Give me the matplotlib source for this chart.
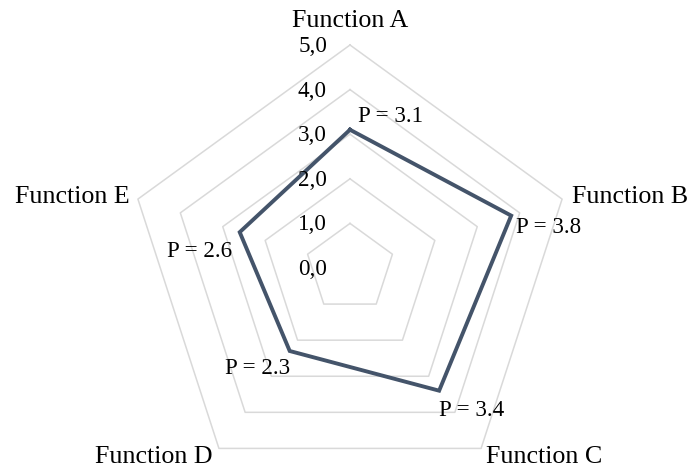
import matplotlib
matplotlib.use('Agg')
import matplotlib.pyplot as plt
import numpy as np

# Données du graphique radar
categories = ['Function A', 'Function B', 'Function C', 'Function D', 'Function E']
values = [3.1, 3.8, 3.4, 2.3, 2.6]
ring_values = [1, 2, 3, 4, 5]
tick_values = [0, 1, 2, 3, 4, 5]
tick_labels = ['0,0', '1,0', '2,0', '3,0', '4,0', '5,0']

plt.rcParams['font.family'] = ['Liberation Serif', 'DejaVu Serif']

W, H = 692, 468
fig = plt.figure(figsize=(W / 100, H / 100), dpi=100, facecolor='white')

# centre (350, 268) px depuis le haut, rayon 223 px
cx, cy, rad = 350, H - 268, 223
ax = fig.add_axes([(cx - rad) / W, (cy - rad) / H, 2 * rad / W, 2 * rad / H],
                  projection='polar')
ax.set_theta_offset(np.pi / 2)
ax.set_theta_direction(-1)
ax.set_ylim(0, 5)
ax.grid(False)
ax.set_xticks([])
ax.set_yticks([])
ax.spines['polar'].set_visible(False)
ax.patch.set_visible(False)

n = len(categories)
theta = np.linspace(0, 2 * np.pi, n, endpoint=False)
theta_closed = np.append(theta, theta[0])

# Grille en pentagones
for r in ring_values:
    ax.plot(theta_closed, [r] * (n + 1), color='#d9d9d9', linewidth=1.1,
            clip_on=False, zorder=1)

# Série
vals_closed = values + values[:1]
ax.plot(theta_closed, vals_closed, color='#44546a', linewidth=2.8,
        solid_joinstyle='miter', clip_on=False, zorder=3)

# Étiquettes d'axe radial
for v, lab in zip(tick_values, tick_labels):
    ax.annotate(lab, xy=(0, v), xytext=(-23, -7), textcoords='offset pixels',
                ha='right', va='baseline', fontsize=16.6, color='black',
                annotation_clip=False)

# Étiquettes des catégories
cat_offsets = [(0, 18, 'center'), (10, -4, 'left'), (5, -15, 'left'),
               (-6, -15, 'right'), (-8, -4, 'right')]
for t, lab, (dx, dy, ha) in zip(theta, categories, cat_offsets):
    ax.annotate(lab, xy=(t, 5), xytext=(dx, dy), textcoords='offset pixels',
                ha=ha, va='baseline', fontsize=18.7, color='black',
                annotation_clip=False)

# Étiquettes de données
lab_offsets = [(8, 8, 'left'), (5, -17, 'left'), (0, -25, 'left'),
               (0, -23, 'right'), (-8, -25, 'right')]
for t, v, (dx, dy, ha) in zip(theta, values, lab_offsets):
    ax.annotate(f'P = {v}', xy=(t, v), xytext=(dx, dy), textcoords='offset pixels',
                ha=ha, va='baseline', fontsize=16.6, color='black',
                annotation_clip=False, zorder=4)

plt.savefig('out.png', dpi=100, facecolor='white')
